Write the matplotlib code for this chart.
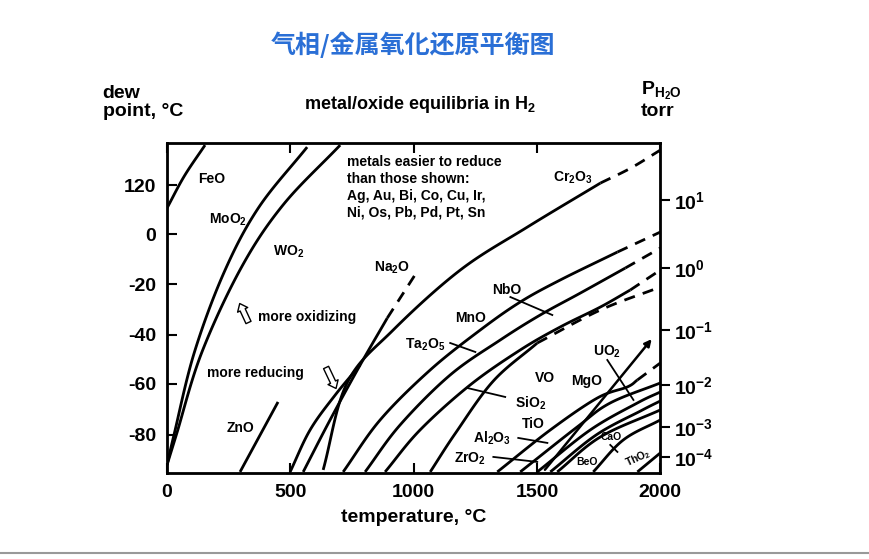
import matplotlib
matplotlib.use('Agg')
import numpy as np
import matplotlib.pyplot as plt
from matplotlib import font_manager

# y values are in chart "level" units (0 = bottom of frame); T in deg C
left_ticks = [288, 239, 189, 138, 89, 38]
left_labels = ['120', '0', '-20', '-40', '-60', '-80']
right_ticks = [273, 205, 143, 88, 46, 16]
right_labels = ['$10^{1}$', '$10^{0}$', '$10^{-1}$', '$10^{-2}$', '$10^{-3}$', '$10^{-4}$']

solid = {
    'FeO': ([0, 70, 154], [265, 297, 328]),
    'MoO2': ([0, 30, 110, 230, 370, 568], [8, 40, 120, 200, 265, 326]),
    'WO2': ([0, 40, 140, 300, 470, 702], [8, 40, 120, 205, 268, 328]),
    'ZnO': ([296, 450], [1, 71]),
    'Na2O': ([552, 661, 783, 893], [1, 53, 108, 155]),
    'Na2O_b': ([499, 580, 682, 783], [1, 43, 78, 108]),
    'Cr2O3': ([633, 730, 917, 1189, 1461, 1757], [3, 90, 143, 203, 246, 290]),
    'C1': ([714, 864, 1067, 1270, 1432, 1594, 1826], [1, 53, 103, 143, 171, 193, 221]),
    'C2': ([803, 945, 1148, 1351, 1513, 1676, 1858], [1, 48, 98, 133, 158, 180, 205]),
    'C3': ([884, 1026, 1229, 1432, 1594, 1757, 1878], [1, 43, 88, 123, 146, 166, 183]),
    'C4': ([1067, 1170, 1323, 1501], [1, 40, 92, 130]),
    'a': ([1339, 1554, 1745, 1866, 1907], [1, 43, 75, 86, 93]),
    'b': ([1432, 1663, 1797, 2000], [1, 46, 70, 90]),
    'c': ([1501, 1716, 1907, 2000], [1, 43, 70, 81]),
    'd': ([1554, 1740, 1920, 2000], [1, 38, 62, 72]),
    'e': ([1582, 1757, 2000], [1, 36, 63]),
    'f': ([1728, 1850, 2000], [1, 33, 53]),
    'g': ([1907, 2000], [1, 20]),
}
dashed = {
    'Na2O': ([893, 966, 1018], [155, 183, 203]),
    'Cr2O3': ([1757, 1880, 2000], [290, 305, 323]),
    'C1': ([1826, 2000], [221, 241]),
    'C2': ([1858, 2000], [205, 225]),
    'C3': ([1878, 2000], [183, 203]),
    'C4': ([1501, 1757, 2000], [130, 163, 186]),
    'a': ([1907, 2000], [93, 110]),
}
steep_T = [1525, 1972]
steep_L = [1, 136]

leaders = [([1392, 1562], [176, 158]), ([1148, 1250], [130, 121]),
           ([1217, 1371], [85, 76]), ([1424, 1542], [35, 30]),
           ([1323, 1501], [16, 11]), ([1785, 1891], [113, 73]),
           ([1797, 1826], [28, 21])]

labels = [
    ('FeO', 183, 294, 10, 0), ('MoO$_2$', 247, 253, 10, 0), ('WO$_2$', 491, 221, 10, 0),
    ('Na$_2$O', 913, 205, 10, 0), ('Cr$_2$O$_3$', 1643, 295, 10, 0),
    ('NbO', 1379, 183, 10, 0), ('MnO', 1229, 155, 10, 0), ('Ta$_2$O$_5$', 1047, 128, 10, 0),
    ('VO', 1534, 95, 10, 0), ('MgO', 1700, 92, 10, 0), ('UO$_2$', 1785, 121, 10, 0),
    ('SiO$_2$', 1473, 70, 10, 0), ('TiO', 1485, 49, 10, 0), ('Al$_2$O$_3$', 1319, 35, 10, 0),
    ('ZrO$_2$', 1229, 14, 10, 0), ('BeO', 1704, 11, 7.5, 0), ('CaO', 1801, 36, 7.5, 0),
    ('ThO$_2$', 1911, 15, 7.5, 25), ('ZnO', 296, 45, 10, 0),
]


def smooth(x, y, n=20):
    # catmull-rom through the read points, only to draw a smooth curve
    p = np.column_stack([x, y]).astype(float)
    if len(p) < 3:
        return p[:, 0], p[:, 1]
    p = np.vstack([2 * p[0] - p[1], p, 2 * p[-1] - p[-2]])
    out = []
    t = np.linspace(0, 1, n, endpoint=False)[:, None]
    for i in range(1, len(p) - 2):
        p0, p1, p2, p3 = p[i - 1], p[i], p[i + 1], p[i + 2]
        out.append(0.5 * (2 * p1 + (-p0 + p2) * t + (2 * p0 - 5 * p1 + 4 * p2 - p3) * t ** 2
                          + (-p0 + 3 * p1 - 3 * p2 + p3) * t ** 3))
    out.append(p[-2][None, :])
    out = np.vstack(out)
    return out[:, 0], out[:, 1]


# find a CJK font file
cjk = None
files = font_manager.findSystemFonts()
for pref in ['NotoSansCJK-Bold', 'NotoSansCJKsc-Bold', 'CJK']:
    for f in files:
        if pref.lower() in f.lower().replace(' ', ''):
            cjk = f
            break
    if cjk:
        break
if cjk:
    title_font = font_manager.FontProperties(fname=cjk, size=18, weight='bold')
else:
    title_font = font_manager.FontProperties(family='Noto Sans CJK SC', size=18, weight='bold')

plt.rcParams['font.family'] = 'Liberation Sans'
plt.rcParams['font.weight'] = 'bold'
plt.rcParams['mathtext.fontset'] = 'custom'
plt.rcParams['mathtext.rm'] = 'Liberation Sans:bold'
plt.rcParams['mathtext.it'] = 'Liberation Sans:bold'

fig = plt.figure(figsize=(8.7, 5.59), dpi=100)
ax = fig.add_axes([0.192, 0.154, 0.567, 0.590])
for k, (x, y) in solid.items():
    ax.plot(*smooth(x, y), color='k', lw=2.0, solid_capstyle='butt')
for k, (x, y) in dashed.items():
    ax.plot(*smooth(x, y), color='k', lw=2.0, ls=(0, (4, 3)))
ax.annotate('', xy=(steep_T[1], steep_L[1]), xytext=(steep_T[0], steep_L[0]),
            arrowprops=dict(arrowstyle='-|>', lw=1.8, color='k'))
for x, y in leaders:
    ax.plot(x, y, color='k', lw=1.3)
for t, x, y, s, r in labels:
    ax.text(x, y, t, fontsize=s, ha='center', va='center', rotation=r)

ax.text(730, 318, 'metals easier to reduce\nthan those shown:\nAg, Au, Bi, Co, Cu, Ir,\nNi, Os, Pb, Pd, Pt, Sn',
        fontsize=10, ha='left', va='top', linespacing=1.25)
ax.text(369, 156, 'more oxidizing', fontsize=10, ha='left', va='center')
ax.text(162, 100, 'more reducing', fontsize=10, ha='left', va='center')
ax.annotate('', xy=(290, 172), xytext=(335, 148),
            arrowprops=dict(arrowstyle='simple,head_width=0.8,tail_width=0.4', fc='white', ec='k', lw=1))
ax.annotate('', xy=(690, 82), xytext=(640, 108),
            arrowprops=dict(arrowstyle='simple,head_width=0.8,tail_width=0.4', fc='white', ec='k', lw=1))

ax.set_xlim(0, 2000)
ax.set_ylim(0, 330)
ax.set_xticks([0, 500, 1000, 1500, 2000])
ax.set_yticks(left_ticks)
ax.set_yticklabels(left_labels)
ax.tick_params(axis='both', direction='in', length=7, width=1.5, labelsize=14, pad=8)
ax.tick_params(axis='x', top=True)
for sp in ax.spines.values():
    sp.set_linewidth(2)
ax2 = ax.twinx()
ax2.set_ylim(0, 330)
ax2.set_yticks(right_ticks)
ax2.set_yticklabels(right_labels)
ax2.tick_params(direction='out', length=7, width=1.5, labelsize=14, pad=3)

ax.set_xlabel('temperature, °C', fontsize=14, fontweight='bold', labelpad=6)
fig.text(0.118, 0.785, 'dew\npoint, °C', fontsize=14, ha='left', va='bottom', linespacing=1.1)
fig.text(0.483, 0.795, 'metal/oxide equilibria in H$_2$', fontsize=13, ha='center', va='bottom')
fig.text(0.737, 0.785, 'P$_{\\mathrm{H_2O}}$\ntorr', fontsize=14, ha='left', va='bottom', linespacing=1.1)
fig.text(0.475, 0.92, '气相/金属氧化还原平衡图', ha='center', va='center',
         color='#2a6fd6', fontproperties=title_font)
fig.add_artist(plt.Line2D([0, 1], [0.01, 0.01], color='#999999', lw=1.5))

fig.savefig('out.png', dpi=100)
